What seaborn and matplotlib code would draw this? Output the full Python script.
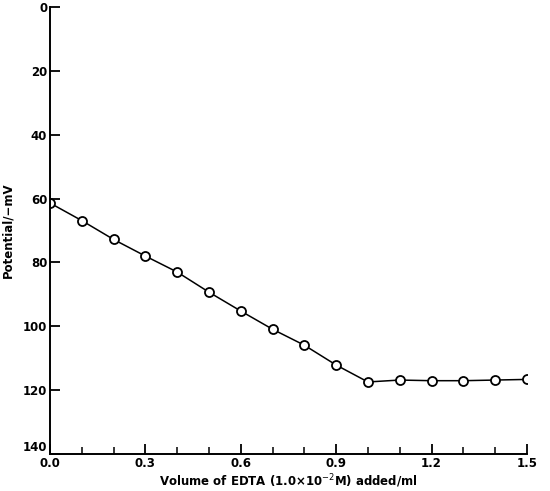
import numpy as np
import pandas as pd
import matplotlib
matplotlib.use("Agg")
import matplotlib.pyplot as plt
import seaborn as sns

# --- data ---
volume = [0.0, 0.1, 0.2, 0.3, 0.4, 0.5, 0.6, 0.7, 0.8, 0.9, 1.0, 1.1, 1.2, 1.3, 1.4, 1.5]
potential = [61.4, 66.9, 72.8, 78.0, 83.0, 89.3, 95.2, 100.9, 105.9, 112.1, 117.4,
             116.8, 117.0, 117.0, 116.8, 116.6]
x_ticks = [0.0, 0.3, 0.6, 0.9, 1.2, 1.5]
x_minor = [0.1, 0.2, 0.4, 0.5, 0.7, 0.8, 1.0, 1.1, 1.3, 1.4]
y_ticks = [0, 20, 40, 60, 80, 100, 120, 140]

df = pd.DataFrame({"volume": volume, "potential": potential})

sns.set_style("ticks", {"axes.edgecolor": "black", "text.color": "black",
                        "axes.labelcolor": "black", "xtick.color": "black",
                        "ytick.color": "black"})
plt.rcParams["font.family"] = ["DejaVu Sans"]

fig = plt.figure(figsize=(5.5, 4.91), dpi=100)
ax = fig.add_axes([0.091, 0.075, 0.867, 0.911])

sns.lineplot(data=df, x="volume", y="potential", ax=ax, color="black",
             linewidth=1.1, marker="o", markersize=6.5,
             markerfacecolor="white", markeredgecolor="black",
             markeredgewidth=1.3)

ax.set_xlim(0.0, 1.5)
ax.set_ylim(140, 0)
ax.set_xticks(x_ticks)
ax.set_xticks(x_minor, minor=True)
ax.set_xticklabels([f"{v:.1f}" for v in x_ticks])
ax.set_yticks(y_ticks)
ax.set_yticklabels([str(v) for v in y_ticks])

ax.tick_params(axis="both", which="major", direction="in", length=7, width=1.3,
               labelsize=8.5, pad=2)
ax.tick_params(axis="x", which="minor", direction="in", length=5, width=1.1)
for lab in ax.get_xticklabels() + ax.get_yticklabels():
    lab.set_fontweight("bold")
# lift "140" a little so it clears "0.0", as in the original
ax.get_yticklabels()[-1].set_verticalalignment("bottom")

for side in ["top", "right"]:
    ax.spines[side].set_visible(False)
for side in ["left", "bottom"]:
    ax.spines[side].set_linewidth(1.4)

ax.set_xlabel("Volume of EDTA (1.0\u00d710$^{-2}$M) added/ml", fontsize=8.5,
              fontweight="bold", labelpad=2)
ax.set_ylabel("Potential/\u2212mV", fontsize=8.5, fontweight="bold", labelpad=6)

fig.savefig("out.png", dpi=100)
